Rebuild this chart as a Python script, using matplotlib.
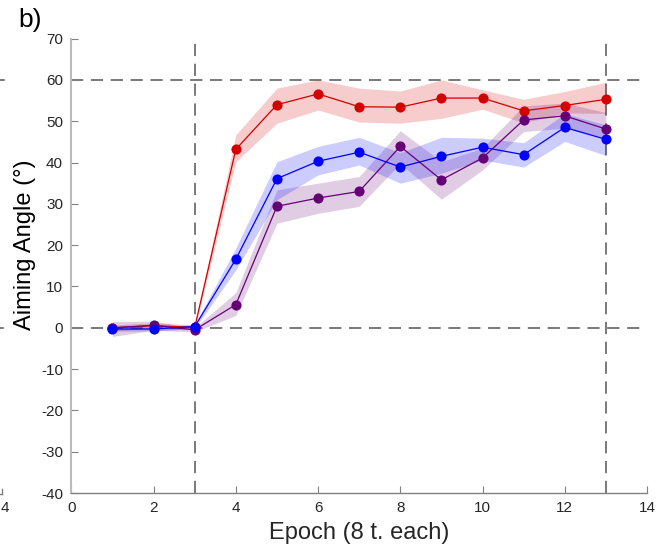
import matplotlib
matplotlib.use("Agg")
import matplotlib.pyplot as plt
from matplotlib.lines import Line2D

plt.rcParams['font.family'] = ['Liberation Sans', 'DejaVu Sans']

epochs = [1, 2, 3, 4, 5, 6, 7, 8, 9, 10, 11, 12, 13]

red_mean = [0.0, 0.5, 0.1, 43.2, 54.0, 56.6, 53.5, 53.4, 55.6, 55.6, 52.5, 53.8, 55.3]
red_lo   = [-0.7, -0.2, -0.5, 40.2, 49.5, 52.7, 49.8, 49.5, 50.7, 52.9, 49.6, 52.0, 51.9]
red_hi   = [0.7, 1.2, 0.7, 46.7, 58.0, 60.0, 58.0, 57.3, 60.0, 57.6, 55.3, 57.2, 59.4]

purple_mean = [0.0, 0.6, -0.5, 5.6, 29.4, 31.4, 33.0, 43.9, 35.8, 41.1, 50.3, 51.3, 48.1]
purple_lo   = [-2.1, -0.6, -1.0, 3.0, 25.3, 27.7, 29.4, 39.8, 31.1, 38.2, 47.5, 48.3, 45.9]
purple_hi   = [1.5, 1.6, 0.0, 8.5, 33.4, 35.0, 36.6, 47.7, 40.2, 43.5, 53.7, 54.4, 52.1]

blue_mean = [-0.3, -0.3, 0.3, 16.6, 36.1, 40.3, 42.5, 38.9, 41.5, 43.7, 41.9, 48.5, 45.6]
blue_lo   = [-0.8, -0.8, -0.2, 14.0, 31.0, 37.0, 39.4, 35.0, 37.4, 40.6, 38.9, 45.1, 41.7]
blue_hi   = [0.2, 0.2, 0.8, 19.3, 40.2, 43.9, 46.1, 42.4, 46.1, 45.9, 44.8, 51.8, 49.1]

xticks = [0, 2, 4, 6, 8, 10, 12, 14]
yticks = [-40, -30, -20, -10, 0, 10, 20, 30, 40, 50, 60, 70]

fig = plt.figure(figsize=(6.67, 5.59), dpi=100)
ax = fig.add_axes([0.107, 0.118, 0.863, 0.813])

series = [
    (red_mean, red_lo, red_hi, '#d40000'),
    (purple_mean, purple_lo, purple_hi, '#660077'),
    (blue_mean, blue_lo, blue_hi, '#0000ff'),
]
for i, (m, lo, hi, c) in enumerate(series):
    ax.fill_between(epochs, lo, hi, color=c, alpha=0.2, linewidth=0, zorder=2 + i)
    ax.plot(epochs, m, color=c, lw=0.9, marker='o', markersize=7.3,
            markeredgewidth=0, zorder=5 + i)

dash = dict(color='#555555', lw=1.1, dashes=(8, 5), zorder=1, clip_on=False)
ax.plot([0, 14], [0, 0], **dash)
ax.plot([0, 14], [60, 60], **dash)
ax.plot([3, 3], [-40, 70], **dash)
ax.plot([13, 13], [-40, 70], **dash)

ax.set_xlim(0, 14)
ax.set_ylim(-40, 70)
ax.set_xticks(xticks)
ax.set_yticks(yticks)
ax.set_xticklabels([str(t) for t in xticks])
ax.set_yticklabels([str(t) for t in yticks])

for s in ['top', 'right']:
    ax.spines[s].set_visible(False)
ax.spines['left'].set_color('#bbbbbb')
ax.spines['left'].set_linewidth(1.5)
ax.spines['bottom'].set_color('#808080')
ax.spines['bottom'].set_linewidth(1.0)
ax.tick_params(direction='in', length=5, color='#808080', labelsize=11,
               labelcolor='#262626', pad=6)

ax.set_xlabel('Epoch (8 t. each)', fontsize=17, color='#262626', labelpad=5)
ax.set_ylabel('Aiming Angle (°)', fontsize=17, color='#000000')
ax.yaxis.set_label_coords(-0.062, 0.546)

fig.text(18 / 667, 1 - 20 / 559, 'b)', fontsize=19, ha='left', va='center')
fig.text(5 / 667, 1 - 508 / 559, '4', fontsize=11, ha='center', va='center', color='#262626')

# fragments of the neighbouring panel at the left edge
fig.add_artist(Line2D([0, 4 / 667], [1 - 80 / 559] * 2, color='#555555', lw=1.1))
fig.add_artist(Line2D([0, 3 / 667], [1 - 328 / 559] * 2, color='#555555', lw=1.1))
fig.add_artist(Line2D([0, 2 / 667], [1 - 494 / 559] * 2, color='#808080', lw=1.0))
fig.add_artist(Line2D([2 / 667, 2 / 667], [1 - 494 / 559, 1 - 489 / 559], color='#808080', lw=1.0))

fig.savefig('out.png', dpi=100)
